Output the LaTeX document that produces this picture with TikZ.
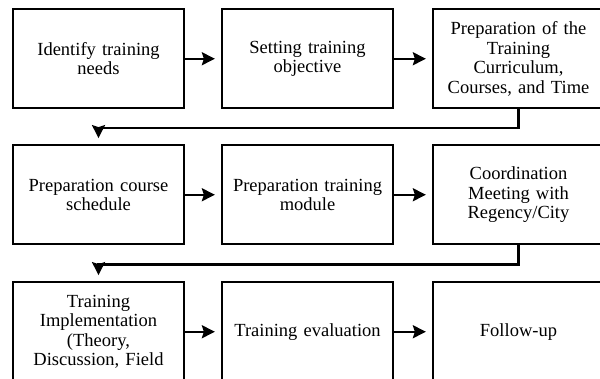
\documentclass[tikz,border=0pt]{standalone}
\usepackage{fontspec}
\setmainfont{Liberation Serif}
\usetikzlibrary{arrows.meta}

\begin{document}
\begin{tikzpicture}[x=1pt, y=1pt, >={Stealth[length=13pt, width=13pt, inset=2pt]},
    stage/.style={draw, line width=2.3pt, minimum width=171pt, minimum height=99pt,
        inner sep=0pt, text width=165pt, align=center,
        font=\fontsize{18.5pt}{19.5pt}\selectfont},
    flow/.style={line width=2.3pt, ->, shorten >=6pt}]
    % Marco del dibujo
    \useasboundingbox (0,0) rectangle (600,378);
    \clip (0,0) rectangle (600,378);
    \fill[white] (0,0) rectangle (600,378);

    % Primera fila
    \node[stage] (needs) at (98.5, 319.25) {Identify training\\needs};
    \node[stage] (objective) at (307.5, 319.25) {Setting training\\objective};
    \node[stage] (curriculum) at (518.5, 319.25) {Preparation of the\\Training\\Curriculum,\\Courses, and Time};

    % Segunda fila
    \node[stage] (schedule) at (98.5, 183.25) {Preparation course\\schedule};
    \node[stage] (module) at (307.5, 183.25) {Preparation training\\module};
    \node[stage] (coordination) at (518.5, 183.25) {Coordination\\Meeting with\\Regency/City};

    % Tercera fila
    \node[stage] (implementation) at (98.5, 46.25) {Training\\Implementation\\(Theory,\\Discussion, Field};
    \node[stage] (evaluation) at (307.5, 46.25) {Training evaluation};
    \node[stage] (followup) at (518.5, 46.25) {Follow-up};

    % Flechas entre etapas
    \draw[flow] (needs) -- (objective);
    \draw[flow] (objective) -- (curriculum);
    \draw[flow] (schedule) -- (module);
    \draw[flow] (module) -- (coordination);
    \draw[flow] (implementation) -- (evaluation);
    \draw[flow] (evaluation) -- (followup);

    % Cambios de fila
    \draw[flow] (curriculum.south) -- ++(0,-18.5) -| (schedule.north);
    \draw[flow] (coordination.south) -- ++(0,-19) -| (implementation.north);
\end{tikzpicture}
\end{document}
